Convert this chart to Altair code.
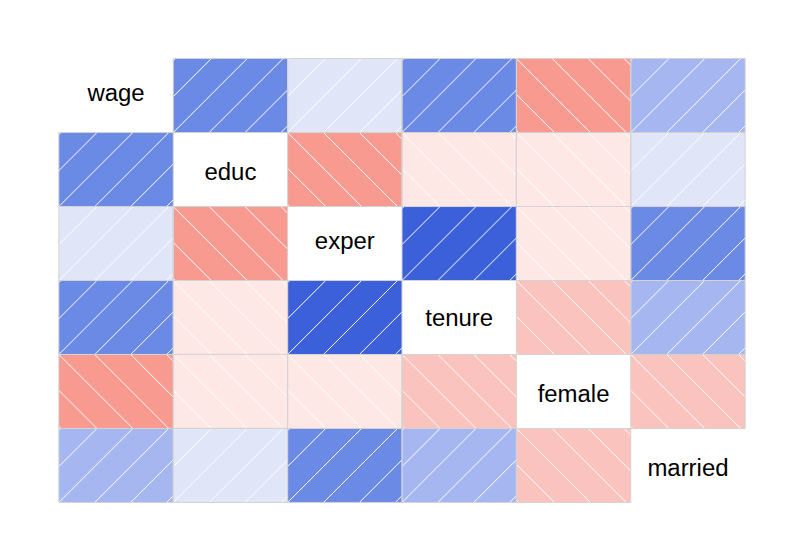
import math
import altair as alt
import pandas as pd

variables = ["wage", "educ", "exper", "tenure", "female", "married"]
pair_a = ["wage", "wage", "wage", "wage", "wage", "educ", "educ", "educ", "educ",
          "exper", "exper", "exper", "tenure", "tenure", "female"]
pair_b = ["educ", "exper", "tenure", "female", "married", "exper", "tenure", "female", "married",
          "tenure", "female", "married", "female", "married", "married"]
corr = [0.41, 0.11, 0.35, -0.34, 0.23, -0.30, -0.06, -0.09, 0.07,
        0.50, -0.04, 0.32, -0.20, 0.24, -0.17]

thresholds = [-0.28, -0.15, 0, 0.15, 0.28, 0.45]
palette = ["#F99A90", "#FBC3BD", "#FDE8E6", "#E0E6F8", "#A5B6F0", "#6B8AE6", "#3C5FDA"]

W, H = 688, 445
n = len(variables)
CW, CH = W / n, H / n
S = 36.0  # hatch spacing in pixels (horizontal)
FS = 24

idx = {v: i for i, v in enumerate(variables)}
cells = []
for a, b, r in zip(pair_a, pair_b, corr):
    i, j = idx[a], idx[b]
    cells.append(dict(row=i, col=j, r=r))
    cells.append(dict(row=j, col=i, r=r))
cell_df = pd.DataFrame(cells)
cell_df["x"] = cell_df["col"]
cell_df["x2"] = cell_df["col"] + 1
cell_df["y"] = cell_df["row"]
cell_df["y2"] = cell_df["row"] + 1

segs = []
for c in cells:
    i, j, r = c["row"], c["col"], c["r"]
    if r > 0:
        for k in range(math.ceil(-CH / S), math.floor(CW / S) + 1):
            cc = CH + k * S
            if cc <= 0.5 or cc >= CW + CH - 0.5:
                continue
            u1 = max(0.0, cc - CH); v1 = cc - u1
            u2 = min(CW, cc); v2 = cc - u2
            segs.append(dict(x=j + u1 / CW, y=i + v1 / CH, x2=j + u2 / CW, y2=i + v2 / CH))
    else:
        for k in range(math.ceil(-CH / S), math.floor(CW / S) + 1):
            cc = k * S
            if cc <= -CH + 0.5 or cc >= CW - 0.5:
                continue
            u1 = max(0.0, cc); v1 = u1 - cc
            u2 = min(CW, cc + CH); v2 = u2 - cc
            segs.append(dict(x=j + u1 / CW, y=i + v1 / CH, x2=j + u2 / CW, y2=i + v2 / CH))
seg_df = pd.DataFrame(segs)


# centre each label on its ink box (approximate Arial metrics)
def ink_shift(word):
    top = 0.519
    if any(ch in "bdfhklt" for ch in word):
        top = 0.716 if any(ch in "bdfhkl" for ch in word) else 0.62
    bottom = -0.21 if any(ch in "gjpqy" for ch in word) else 0.0
    return (top + bottom) / 2 * FS + 1.5


diag_df = pd.DataFrame({"name": variables,
                        "xpos": [i + 0.5 for i in range(n)],
                        "ypos": [i + 0.5 + ink_shift(v) / CH for i, v in enumerate(variables)]})

xs = alt.Scale(domain=[0, n], nice=False, zero=False)
ys = alt.Scale(domain=[0, n], nice=False, zero=False, reverse=True)

fills = alt.Chart(cell_df).mark_rect(strokeWidth=0).encode(
    x=alt.X("x:Q", scale=xs, axis=None),
    x2="x2:Q",
    y=alt.Y("y:Q", scale=ys, axis=None),
    y2="y2:Q",
    color=alt.Color("r:Q", scale=alt.Scale(type="threshold", domain=thresholds, range=palette),
                    legend=None),
)

hatch = alt.Chart(seg_df).mark_rule(color="white", strokeWidth=1).encode(
    x=alt.X("x:Q", scale=xs, axis=None),
    x2="x2:Q",
    y=alt.Y("y:Q", scale=ys, axis=None),
    y2="y2:Q",
)

borders = alt.Chart(cell_df).mark_rect(fillOpacity=0, stroke="#D3D3D3", strokeWidth=1).encode(
    x=alt.X("x:Q", scale=xs, axis=None),
    x2="x2:Q",
    y=alt.Y("y:Q", scale=ys, axis=None),
    y2="y2:Q",
)

labels = alt.Chart(diag_df).mark_text(fontSize=FS, font="Liberation Sans, Arial, sans-serif",
                                      color="black", align="center", baseline="alphabetic").encode(
    x=alt.X("xpos:Q", scale=xs, axis=None),
    y=alt.Y("ypos:Q", scale=ys, axis=None),
    text="name:N",
)

chart = alt.layer(fills, hatch, borders, labels).properties(
    width=W, height=H,
    padding={"left": 58, "top": 57, "right": 58, "bottom": 58},
    background="white",
).configure_view(strokeWidth=0)

chart.save("out.html", embed_options={"renderer": "svg", "actions": False})
